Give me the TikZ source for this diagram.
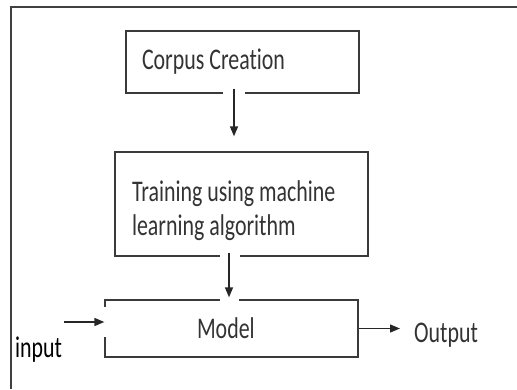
\documentclass[tikz,border=0pt]{standalone}
\usepackage{fontspec}
\setmainfont{Carlito}[FakeStretch=0.73, Ligatures=NoCommon]
\usetikzlibrary{arrows.meta}
\definecolor{BoxGray}{HTML}{3A3A3A}
\definecolor{TextGray}{HTML}{333333}

\begin{document}
\begin{tikzpicture}[x=1pt, y=1pt,
    stagebox/.style={draw=BoxGray, line width=1.3pt, inner sep=0pt, font=\fontsize{30}{34}\selectfont, text=TextGray},
    flow/.style={-{Triangle[length=10pt,width=8pt]}, line width=1.4pt, black!85},
    notch/.style={fill=white},
    plain/.style={inner sep=0pt, font=\fontsize{30}{34}\selectfont}]
                \useasboundingbox (0,0) rectangle (517,389);

                % Frame
                \draw[black!75, line width=1.6pt] (11,0) -- (11,382) -- (517,382);

                % Stages
                \node[stagebox, minimum width=233pt, minimum height=62pt, text width=201pt, align=flush left] (corpus) at (242.5,327) {Corpus Creation};
                \node[stagebox, minimum width=253pt, minimum height=104pt, text width=219pt, align=flush left] (train) at (241.5,185) {\rule{0pt}{34pt}Training using machine\\learning algorithm};
                \node[stagebox, minimum width=253pt, minimum height=57pt, text width=237pt, align=flush left] (model) at (231.5,60.5) {\hspace*{84pt}Model};

                % Side labels
                \node[plain, anchor=base west] (input) at (15,32) {input};
                \node[plain, anchor=base west, text=TextGray, inner xsep=14pt] (output) at (400,47) {Output};
                \coordinate (in) at (64,67);

                % Gaps in the box borders
                \fill[notch] (223,293) rectangle (245,299);
                \fill[notch] (220,130) rectangle (240,136);
                \fill[notch] (220,86) rectangle (239,92);
                \fill[notch] (102,52) rectangle (108,82);

                % Connectors
                \draw[flow] ([xshift=-8.5pt, yshift=5pt]corpus.south) -- ([xshift=-7.5pt, yshift=15pt]train.north);
                \draw[flow] ([xshift=-12.5pt, yshift=4pt]train.south) -- ([xshift=-2.5pt, yshift=2pt]model.north);
                \draw[flow] (in) -- (in -| model.west);
                \draw[flow] (model.east) -- (model.east -| output.west);
            \end{tikzpicture}
\end{document}
